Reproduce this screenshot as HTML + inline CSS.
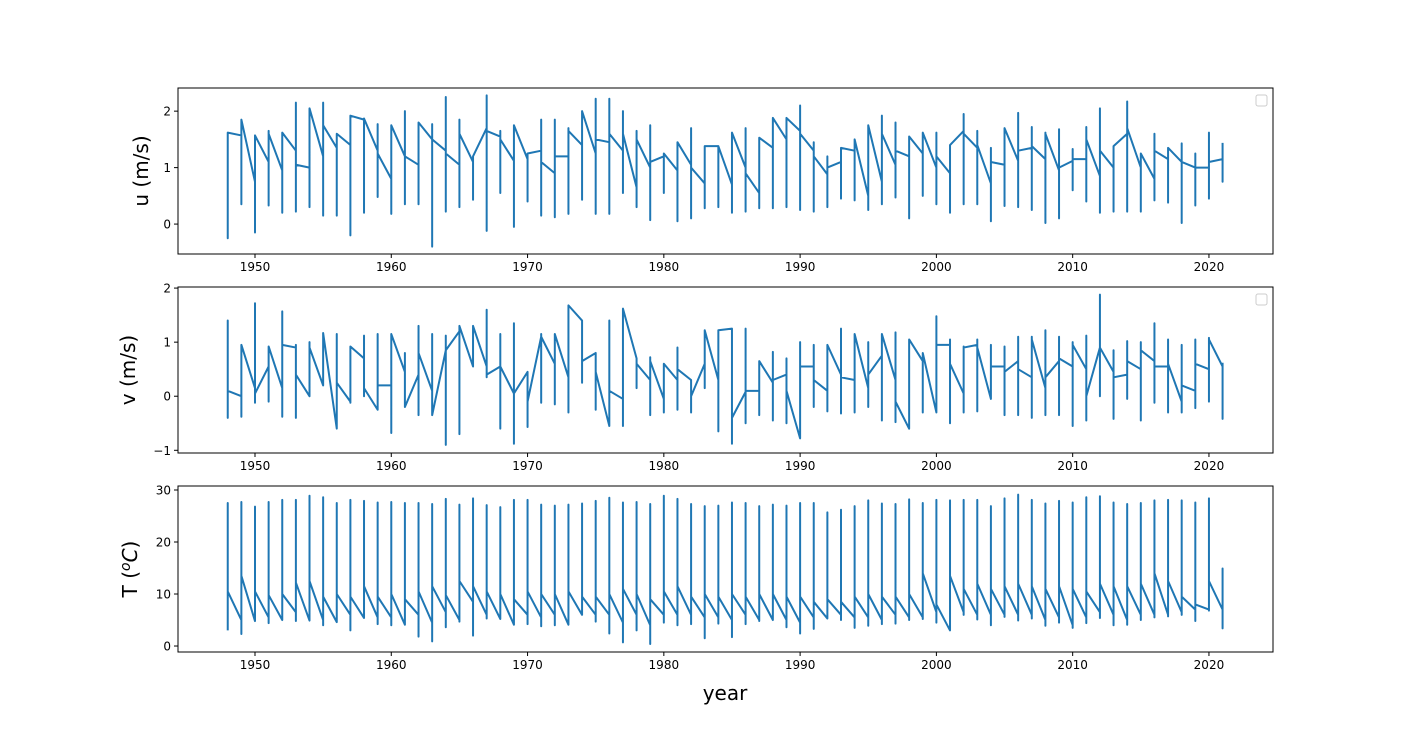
<!DOCTYPE html>
<html><head><meta charset="utf-8"><style>
body{margin:0;background:#fff;}
svg{display:block;font-family:"DejaVu Sans","Liberation Sans",sans-serif;}
</style></head><body>
<svg id="chart" width="1414" height="733" viewBox="0 0 1414 733" xmlns="http://www.w3.org/2000/svg"></svg>
<script>
const years=[];for(let y=1948;y<=2021;y++)years.push(y);
const xTicks=[1950,1960,1970,1980,1990,2000,2010,2020];
const uHi=[1.62,1.85,1.57,1.65,1.62,2.15,2.05,2.15,1.6,1.92,1.87,1.77,1.75,2.0,1.8,1.77,2.25,1.85,1.15,2.28,1.65,1.75,1.2,1.85,1.85,1.7,2.0,2.22,2.22,2.0,1.65,1.75,1.25,1.45,1.7,1.38,1.38,1.62,1.7,1.53,1.88,1.88,2.1,1.45,1.2,1.35,1.5,1.75,1.92,1.8,1.55,1.62,1.62,1.4,1.95,1.65,1.35,1.7,1.97,1.72,1.62,1.68,1.33,1.72,2.05,1.38,2.17,1.25,1.6,1.35,1.43,1.25,1.62,1.42];
const uLo=[-0.25,0.35,-0.15,0.33,0.2,0.22,0.3,0.15,0.15,-0.2,0.2,0.48,0.18,0.35,0.35,-0.4,0.22,0.3,0.43,-0.12,0.55,-0.05,0.4,0.15,0.12,0.18,0.43,0.18,0.18,0.55,0.3,0.07,0.55,0.05,0.1,0.28,0.3,0.2,0.22,0.28,0.28,0.3,0.25,0.22,0.3,0.45,0.42,0.25,0.35,0.47,0.1,0.5,0.35,0.2,0.35,0.35,0.05,0.32,0.3,0.25,0.02,0.1,0.6,0.4,0.2,0.22,0.22,0.22,0.42,0.38,0.02,0.33,0.45,0.75];
const uFirst=[1.2,1.57,0.75,1.1,0.95,1.3,1.0,1.2,1.35,1.4,1.85,1.3,0.8,1.2,1.05,1.5,1.3,1.05,1.1,1.7,1.55,1.12,1.15,1.3,0.9,1.2,1.4,1.25,1.45,1.3,0.65,1.0,1.2,0.95,1.05,0.72,1.38,0.7,1.0,0.55,1.35,1.5,1.65,1.3,0.88,1.1,1.3,0.5,0.75,1.05,1.2,1.25,1.0,0.9,1.65,1.35,0.72,1.05,1.12,1.35,1.15,0.95,1.12,1.15,0.85,1.0,1.6,1.0,0.8,1.15,1.1,1.0,1.0,1.15];
const uLast=[1.62,1.85,1.57,1.6,1.62,1.05,2.05,1.75,1.6,1.92,1.87,1.25,1.75,1.2,1.8,1.5,1.25,1.6,1.2,1.65,1.5,1.75,1.25,1.1,1.2,1.65,2.0,1.5,1.6,1.6,1.5,1.1,1.25,1.45,1.0,1.38,1.38,1.62,0.9,1.53,1.88,1.88,1.6,1.2,1.0,1.35,1.5,1.75,1.6,1.3,1.55,1.62,1.2,1.4,1.6,1.4,1.1,1.7,1.3,1.38,1.6,1.0,1.15,1.5,1.3,1.38,1.7,1.25,1.3,1.35,1.1,1.0,1.1,1.42];
const vHi=[1.4,0.95,1.72,0.92,1.57,0.95,1.0,1.17,1.15,0.92,1.12,1.15,1.15,0.8,1.3,1.15,1.12,1.2,1.3,1.6,1.15,1.35,0.45,1.15,1.15,1.68,1.4,0.8,1.4,1.62,0.7,0.72,0.6,0.9,0.3,0.8,1.22,1.25,1.25,0.1,0.82,0.7,1.0,0.95,0.95,1.25,1.15,1.0,0.8,1.18,1.05,0.8,1.48,1.05,0.92,1.05,0.95,0.92,1.1,1.1,1.22,1.1,1.0,1.12,1.88,0.85,1.02,1.0,1.35,1.05,0.95,1.05,1.08,0.6];
const vLo=[-0.4,-0.38,-0.12,-0.1,-0.38,-0.4,0.0,0.2,-0.6,-0.12,0.0,-0.25,-0.68,-0.2,-0.35,-0.35,-0.9,-0.7,0.55,0.35,-0.6,-0.88,-0.57,-0.12,-0.15,-0.3,0.25,-0.25,-0.55,-0.55,0.15,-0.35,-0.3,-0.25,-0.3,0.15,-0.65,-0.88,-0.5,-0.35,-0.45,-0.5,-0.78,-0.2,-0.28,-0.32,-0.3,-0.2,-0.45,-0.48,-0.6,-0.3,-0.3,-0.5,-0.3,-0.28,-0.05,-0.35,-0.35,-0.4,-0.35,-0.35,-0.55,-0.45,0.0,-0.42,-0.05,-0.45,-0.12,-0.3,-0.3,-0.22,-0.1,-0.42];
const vFirst=[0.1,0.0,0.15,0.55,0.15,0.9,0.0,0.2,-0.6,-0.1,0.7,-0.25,0.2,0.45,0.4,0.1,0.85,1.2,0.55,0.55,0.55,0.05,0.45,1.1,0.6,0.35,1.4,0.8,-0.55,-0.05,0.7,0.3,-0.05,0.3,0.3,0.6,0.3,1.25,0.08,0.1,0.25,0.4,-0.78,0.55,0.1,0.4,0.3,0.15,0.75,0.3,-0.6,0.65,-0.3,0.95,0.05,0.95,-0.05,0.55,0.65,0.35,0.15,0.65,0.55,0.5,0.9,0.45,0.4,0.5,0.65,0.55,-0.1,0.1,0.5,0.55];
const vLast=[0.1,0.95,0.05,0.92,0.95,0.4,0.9,1.17,0.25,0.92,0.15,0.2,1.15,-0.2,0.8,-0.35,0.85,1.3,1.3,0.4,0.55,0.05,-0.1,1.1,1.15,1.68,0.65,0.45,0.1,1.62,0.6,0.65,0.6,0.5,0.0,1.22,1.22,-0.4,0.1,0.65,0.3,0.1,0.55,0.3,0.95,0.35,1.15,0.4,1.15,-0.1,1.05,0.8,0.95,0.6,0.9,0.9,0.55,0.45,0.5,1.05,0.35,0.7,0.95,0.0,0.9,0.35,0.65,0.85,0.55,0.6,0.2,0.6,1.05,0.6];
const tHi=[27.5,27.7,26.8,27.7,28.1,28.1,28.9,28.6,27.5,28.1,27.9,27.6,27.7,27.5,27.5,27.3,28.3,27.2,28.4,27.1,26.7,28.1,28.1,27.2,27.0,27.2,27.4,27.9,28.5,27.6,27.7,27.3,28.9,28.3,27.3,26.9,27.0,27.6,27.5,26.9,27.2,27.0,27.5,27.5,25.7,26.2,26.9,28.0,27.4,27.3,28.2,27.5,28.1,28.0,28.1,28.1,26.9,28.4,29.1,28.1,27.4,27.9,27.6,28.6,28.8,27.6,27.3,27.5,28.0,28.1,28.0,27.6,28.4,14.9];
const tLo=[3.2,2.3,4.8,4.4,5.0,4.8,4.9,4.0,4.6,3.0,5.4,4.2,4.0,4.1,1.8,0.9,3.6,4.7,2.0,5.3,5.2,4.1,4.2,3.8,4.0,4.1,6.0,4.7,2.4,0.7,3.0,0.4,4.5,4.0,4.2,1.5,4.3,1.7,4.2,4.8,5.0,3.6,2.4,3.3,5.3,5.0,3.5,3.9,4.2,4.3,5.0,5.2,4.5,3.0,6.0,5.1,4.0,5.6,4.9,5.3,3.9,4.5,3.5,4.4,5.4,4.0,4.1,5.0,5.5,5.7,6.0,4.8,6.8,3.4];
const tLast=[10.5,13.5,10.5,9.8,10.0,12.2,12.5,9.5,10.0,9.5,11.5,9.5,10.0,9.0,10.5,11.5,9.8,12.5,11.5,10.5,10.0,9.0,10.5,10.0,10.0,10.5,9.5,9.5,10.0,11.0,10.0,9.0,10.5,11.5,9.5,10.0,9.5,10.0,9.5,10.0,10.0,9.5,9.5,8.5,9.0,8.5,9.5,10.0,9.5,9.5,10.0,14.0,8.0,13.5,11.0,12.0,11.0,11.5,12.0,11.5,11.0,11.5,11.0,10.5,12.0,11.5,11.5,12.0,14.0,12.5,9.5,8.0,12.5,6.5];
const tEnter=[3.2,5.0,4.8,5.5,5.0,6.5,4.9,5.0,4.6,6.0,5.4,5.5,5.5,4.1,6.0,4.5,6.5,5.0,8.5,6.0,5.2,4.1,6.0,5.5,6.0,4.1,6.0,6.0,6.0,4.5,6.0,4.0,6.0,6.0,6.0,5.5,5.5,5.0,6.0,5.0,5.0,5.0,4.5,5.5,5.3,6.0,5.5,5.5,5.0,6.0,5.5,5.5,6.5,3.0,6.5,6.0,6.0,6.0,6.0,6.0,5.0,5.5,4.0,5.5,6.5,6.0,5.0,6.0,6.0,6.0,6.5,7.0,7.0,7.0];

const NS="http://www.w3.org/2000/svg";
const svg=document.getElementById('chart');
function el(tag,attrs,parent){const e=document.createElementNS(NS,tag);for(const k in attrs)e.setAttribute(k,attrs[k]);(parent||svg).appendChild(e);return e;}
const X0=178,X1=1273,xmin=1944.35,xmax=2024.7;
const xs=v=>X0+(v-xmin)/(xmax-xmin)*(X1-X0);

const panels=[
 {name:'u',top:88,bot:254,ymin:-0.53,ymax:2.41,ticks:[0,1,2],lo:uLo,hi:uHi,first:uFirst,last:uLast,legend:true},
 {name:'v',top:287,bot:453,ymin:-1.05,ymax:2.02,ticks:[-1,0,1,2],lo:vLo,hi:vHi,first:vFirst,last:vLast,legend:true},
 {name:'t',top:486,bot:652,ymin:-1.15,ymax:30.77,ticks:[0,10,20,30],lo:tLo,hi:tHi,first:tEnter,last:tLast,legend:false}
];
panels.forEach(p=>{
 const ys=v=>p.bot-(v-p.ymin)/(p.ymax-p.ymin)*(p.bot-p.top);
 const g=el('g',{});
 
 
 let d='';
 years.forEach((yr,i)=>{
   const x=xs(yr).toFixed(2);
   d+=(i===0?'M':'L')+x+','+ys(p.first[i]).toFixed(2);
   d+='L'+x+','+ys(p.lo[i]).toFixed(2);
   d+='L'+x+','+ys(p.hi[i]).toFixed(2);
   d+='L'+x+','+ys(p.last[i]).toFixed(2);
 });
 const line=el('path',{d:d,fill:'none',stroke:'#1f77b4','stroke-width':2,'stroke-linejoin':'round','stroke-linecap':'square'},g);
 
 
 const fr=el('rect',{x:X0,y:p.top,width:X1-X0,height:p.bot-p.top,fill:'none',stroke:'#000','stroke-width':1},g);
 
 
 xTicks.forEach(t=>{
   const x=xs(t);
   el('line',{x1:x,x2:x,y1:p.bot,y2:p.bot+4,stroke:'#000','stroke-width':1},g);
   const tx=el('text',{x:x,y:p.bot+17,'font-size':12,'text-anchor':'middle',fill:'#000'},g);
   tx.textContent=t;
   
   
 });
 p.ticks.forEach(t=>{
   const y=ys(t);
   el('line',{x1:X0-4,x2:X0,y1:y,y2:y,stroke:'#000','stroke-width':1},g);
   const tx=el('text',{x:X0-7,y:y+4.5,'font-size':12,'text-anchor':'end',fill:'#000'},g);
   tx.textContent=t<0?'\u2212'+Math.abs(t):t;
   
   
 });
 if(p.legend){
   const lg=el('rect',{x:1256,y:p.top+7,width:11,height:11,rx:2,fill:'#fff',stroke:'#ccc','stroke-width':1},g);
   
   
 }
});
</script>
<div style="position:absolute;left:0;top:0;width:1414px;height:733px;pointer-events:none;">
<svg width="1414" height="733" style="position:absolute;left:0;top:0;font-family:'DejaVu Sans','Liberation Sans',sans-serif;">
 <text transform="translate(148,171) rotate(-90)" font-size="20" text-anchor="middle">u (m/s)</text>
 <text transform="translate(135,370) rotate(-90)" font-size="20" text-anchor="middle">v (m/s)</text>
 <text transform="translate(137,569) rotate(-90)" font-size="20" text-anchor="middle">T (<tspan font-style="italic" font-size="14" dy="-7">o</tspan><tspan font-style="italic" dy="7">C</tspan>)</text>
 <text x="725" y="700" font-size="20" text-anchor="middle">year</text>
</svg>
</div>
</body></html>
